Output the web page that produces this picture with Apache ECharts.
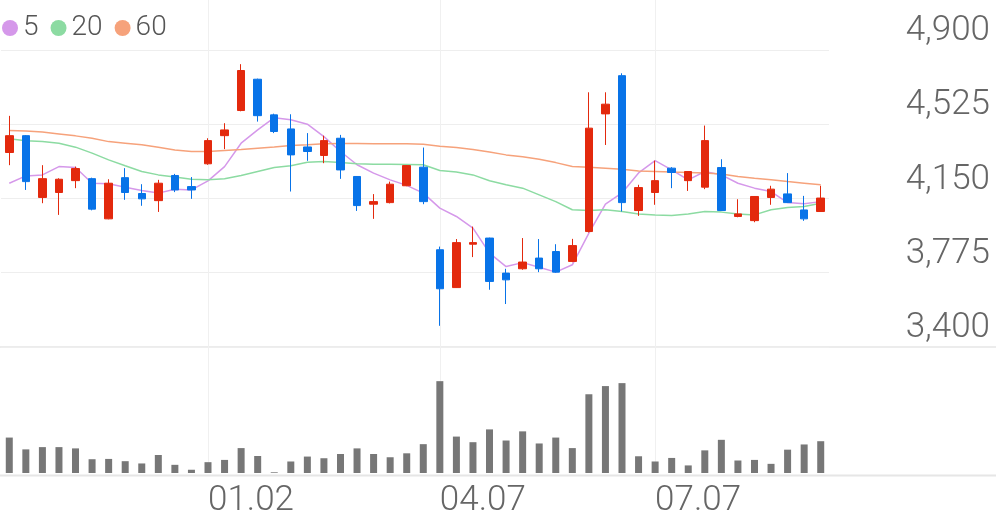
<!DOCTYPE html>
<html><head><meta charset="utf-8">
<script src="https://cdn.jsdelivr.net/npm/echarts@6/dist/echarts.min.js"></script>
<style>html,body{margin:0;padding:0;background:#fff}#c{width:996px;height:519px}</style>
</head><body><div id="c"></div>
<script>
const dates = ['10.10','10.17','10.24','10.31','11.07','11.14','11.21','11.28','12.05','12.12','12.19','12.26',
  '01.02','01.09','01.16','01.23','01.30','02.06','02.13','02.20','02.27','03.06','03.13','03.20','03.27','03.31',
  '04.07','04.14','04.21','04.28','05.05','05.12','05.19','05.26','06.02','06.09','06.16','06.23','06.30',
  '07.07','07.14','07.21','07.28','08.04','08.11','08.18','08.25','09.01','09.08','09.15'];
const opens  = [4382,4467,4155,4180,4240,4250,4047,4255,4175,4139,4266,4210,4325,4467,4594,4752,4572,4501,4410,4367,4454,4261,4121,4129,4214,4308,3891,3700,3919,3950,3773,3795,3849,3882,3832,3983,4577,4770,4089,4180,4303,4240,4207,4306,4059,4038,4155,4173,4092,4084];
const closes = [4467,4235,4250,4247,4301,4096,4227,4180,4148,4227,4193,4193,4442,4496,4796,4568,4488,4370,4387,4442,4294,4114,4134,4222,4316,4134,3694,3927,3927,3731,3739,3829,3795,3778,3912,4505,4626,4129,4205,4240,4281,4286,4442,4089,4072,4160,4197,4129,4047,4152];
const lows   = [4318,4193,4126,4067,4202,4090,4045,4143,4113,4082,4182,4148,4320,4399,4590,4538,4480,4185,4340,4328,4249,4087,4047,4125,4212,4121,3507,3698,3854,3689,3617,3790,3778,3775,3828,3978,4420,4084,4062,4118,4202,4188,4197,4087,4055,4030,4118,4127,4037,4082];
const highs  = [4567,4470,4318,4252,4311,4255,4247,4303,4222,4244,4274,4258,4454,4530,4828,4755,4578,4575,4480,4467,4471,4263,4172,4235,4318,4407,3907,3945,4008,3952,3795,3950,3945,3919,3946,4686,4686,4782,4219,4341,4308,4288,4518,4348,4146,4162,4214,4278,4163,4214];
const ma5  = [4227,4264,4269,4311,4306,4227,4224,4207,4190,4177,4197,4193,4239,4311,4429,4496,4558,4547,4525,4462,4387,4320,4278,4244,4216,4177,4101,4059,4000,3874,3806,3826,3803,3778,3815,3975,4121,4178,4279,4341,4294,4244,4286,4269,4227,4202,4185,4129,4123,4134];
const ma20 = [4451,4441,4437,4429,4409,4379,4345,4315,4286,4269,4258,4247,4244,4249,4266,4286,4306,4315,4333,4336,4331,4325,4323,4323,4322,4320,4291,4283,4269,4239,4219,4202,4168,4134,4093,4089,4093,4084,4072,4067,4064,4072,4084,4081,4072,4067,4093,4104,4109,4126];
const ma60 = [4493,4491,4485,4476,4466,4454,4437,4429,4421,4409,4395,4387,4387,4392,4397,4404,4410,4417,4421,4426,4427,4427,4426,4426,4426,4424,4414,4407,4397,4384,4370,4360,4348,4331,4311,4308,4303,4298,4289,4286,4283,4281,4278,4273,4261,4252,4244,4235,4227,4219];
const volumes = [36.0,24.0,26.3,26.3,25.0,14.0,14.3,12.0,9.7,18.3,8.3,3.3,11.0,13.3,25.3,17.3,0.7,11.7,16.7,15.0,19.3,25.0,19.3,16.0,20.0,29.3,93.3,37.0,31.3,44.3,33.0,42.3,30.0,36.0,25.3,80.0,88.3,91.3,17.0,11.7,15.3,7.7,23.0,33.7,12.7,13.3,9.3,23.7,29.0,32.3];
const tickLabels = ['01.02','04.07','07.07'];
const priceMin = 3400, priceStep = 375, priceTop = 5152, volMax = 128;

const UP = '#e3290d', DOWN = '#0873e8';
const candles = opens.map((o, i) => [o, closes[i], lows[i], highs[i]]);
const showTick = (idx, val) => tickLabels.indexOf(val) >= 0;
const font = 'Roboto';
const vSplit = { show: true, alignWithLabel: true, interval: showTick, lineStyle: { color: '#f0f0f0', width: 1 } };
const chart = echarts.init(document.getElementById('c'));
chart.setOption({
  animation: false,
  backgroundColor: '#fff',
  legend: {
    left: 2, top: 14, padding: 0, itemWidth: 16, itemHeight: 16, itemGap: 12, icon: 'circle',
    data: ['5', '20', '60'],
    textStyle: { fontFamily: font, fontSize: 28, fontWeight: 300, color: '#555' }
  },
  grid: [
    { left: 1, right: 167, top: 0, bottom: 172 },
    { left: 1, right: 167, top: 347, bottom: 44 }
  ],
  xAxis: [
    { type: 'category', gridIndex: 0, data: dates, boundaryGap: true,
      axisLine: { show: false }, axisTick: { show: false, alignWithLabel: true, interval: showTick }, axisLabel: { show: false, interval: showTick },
      splitLine: vSplit },
    { type: 'category', gridIndex: 1, data: dates, boundaryGap: true,
      axisLine: { show: false }, axisTick: { show: false, alignWithLabel: true, interval: showTick },
      axisLabel: { interval: showTick, align: 'left', margin: 11, fontFamily: font, fontSize: 35, fontWeight: 300, color: '#666' },
      splitLine: vSplit }
  ],
  yAxis: [
    { type: 'value', gridIndex: 0, position: 'right', min: priceMin, max: priceTop, interval: priceStep,
      axisLine: { show: false }, axisTick: { show: false },
      axisLabel: { showMaxLabel: false, align: 'right', verticalAlign: 'bottom', margin: 161, padding: [0, 0, 1, 0],
        fontFamily: font, fontSize: 35, fontWeight: 300, color: '#666',
        formatter: v => v.toLocaleString('en-US') },
      splitLine: { show: true, lineStyle: { color: ['#eeeeee', '#eeeeee', '#eeeeee', '#eeeeee', '#eeeeee', 'rgba(0,0,0,0)'], width: 1 } } },
    { type: 'value', gridIndex: 1, min: 0, max: volMax,
      axisLine: { show: false }, axisTick: { show: false }, axisLabel: { show: false }, splitLine: { show: false } }
  ],
  series: [
    { name: '5', type: 'line', data: ma5, xAxisIndex: 0, yAxisIndex: 0, symbol: 'none', z: 2,
      itemStyle: { color: '#d598ea' }, lineStyle: { color: '#d598ea', width: 1.5 } },
    { name: '20', type: 'line', data: ma20, xAxisIndex: 0, yAxisIndex: 0, symbol: 'none', z: 2,
      itemStyle: { color: '#8cdba2' }, lineStyle: { color: '#8cdba2', width: 1.5 } },
    { name: '60', type: 'line', data: ma60, xAxisIndex: 0, yAxisIndex: 0, symbol: 'none', z: 2,
      itemStyle: { color: '#f6a27b' }, lineStyle: { color: '#f6a27b', width: 1.5 } },
    { name: 'price', type: 'candlestick', data: candles, xAxisIndex: 0, yAxisIndex: 0, barWidth: 8, z: 3,
      itemStyle: { color: UP, color0: DOWN, borderColor: UP, borderColor0: DOWN, borderWidth: 1 } },
    { name: 'volume', type: 'bar', data: volumes, xAxisIndex: 1, yAxisIndex: 1, barWidth: 7,
      itemStyle: { color: '#777777' } }
  ],
  graphic: [
    { type: 'line', shape: { x1: 0, y1: 347, x2: 996, y2: 347 }, style: { stroke: '#ececec', lineWidth: 2 }, z: 0 },
    { type: 'line', shape: { x1: 0, y1: 475.5, x2: 996, y2: 475.5 }, style: { stroke: '#e6e6e6', lineWidth: 2 }, z: 0 }
  ]
});
</script></body></html>
